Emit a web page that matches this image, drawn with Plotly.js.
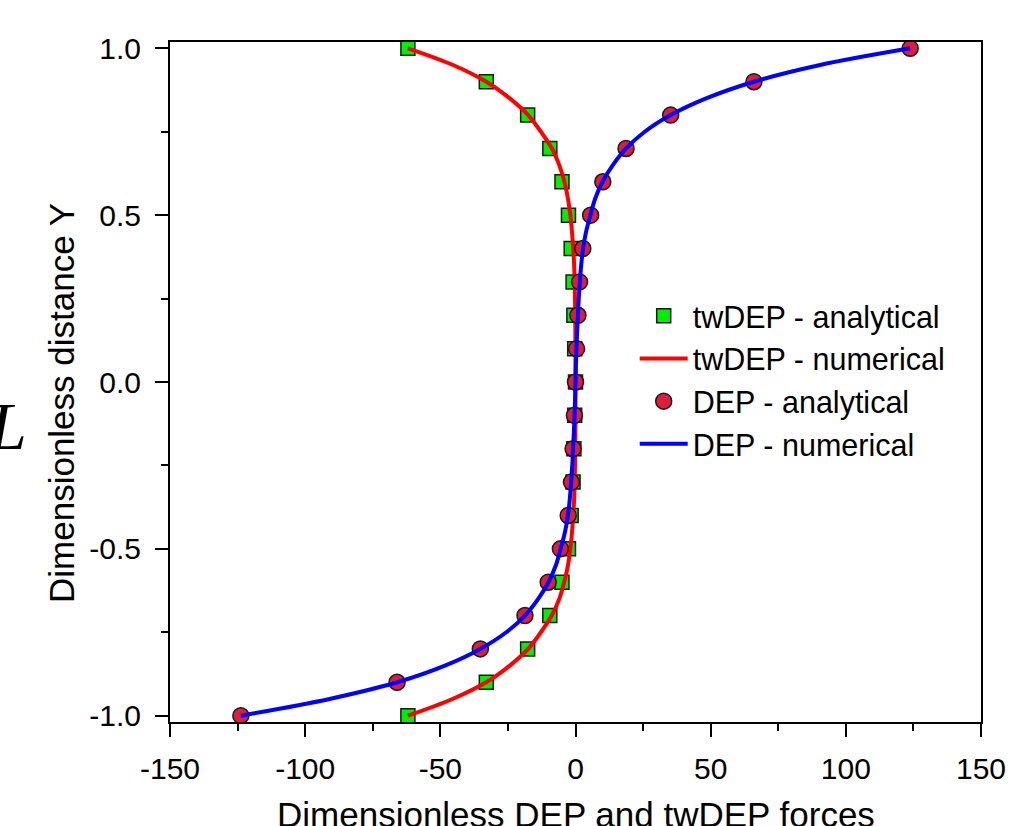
<!DOCTYPE html>
<html>
<head>
<meta charset="utf-8">
<script src="https://cdn.plot.ly/plotly-3.0.1.min.js"></script>
<style>html,body{margin:0;padding:0;background:#fff;}#chart{width:1031px;height:826px;}</style>
</head>
<body>
<div id="chart"></div>
<script>
// Analytical sample positions (dimensionless distance Y)
var yAnalytical = [-1.0,-0.9,-0.8,-0.7,-0.6,-0.5,-0.4,-0.3,-0.2,-0.1,0.0,0.1,0.2,0.3,0.4,0.5,0.6,0.7,0.8,0.9,1.0];
// twDEP analytical force values
var twdepAnalytical = [-62,-33,-17.7,-9.5,-5.0,-2.6,-1.6,-0.9,-0.6,-0.3,0,-0.3,-0.6,-0.9,-1.6,-2.6,-5.0,-9.5,-17.7,-33,-62];
// DEP analytical force values
var depAnalytical = [-123.8,-66,-35.2,-18.7,-10.1,-5.6,-2.7,-1.5,-0.9,-0.4,0,0.4,0.9,1.5,2.7,5.6,10.1,18.7,35.2,66,123.8];

// Numerical curve positions
var yNumerical = [-1.0,-0.95,-0.9,-0.85,-0.8,-0.75,-0.7,-0.65,-0.6,-0.55,-0.5,-0.45,-0.4,-0.35,-0.3,-0.25,-0.2,-0.15,-0.1,-0.05,0.0,
                  0.05,0.1,0.15,0.2,0.25,0.3,0.35,0.4,0.45,0.5,0.55,0.6,0.65,0.7,0.75,0.8,0.85,0.9,0.95,1.0];
// twDEP numerical force values
var twdepNumerical = [-62,-45.5,-33,-24.3,-17.5,-12.8,-8.8,-6.0,-4.2,-2.8,-1.9,-1.3,-0.85,-0.5,-0.3,-0.18,-0.1,-0.05,-0.02,-0.01,0,
                      -0.01,-0.02,-0.05,-0.1,-0.18,-0.3,-0.5,-0.85,-1.3,-1.9,-2.8,-4.1,-6.0,-8.7,-12.8,-17.5,-24.3,-33,-45.3,-62];
// DEP numerical force values
var depNumerical = [-123.8,-91,-66,-48.3,-35.2,-25.6,-18.7,-13.8,-10.0,-7.3,-5.5,-3.9,-2.8,-2.1,-1.6,-1.2,-0.9,-0.6,-0.35,-0.15,0,
                    0.15,0.35,0.6,0.9,1.2,1.6,2.1,2.8,3.9,5.5,7.3,10.0,13.8,18.7,25.6,35.2,48.3,66,90.5,123.8];

// Tick labels
var xTickVals = [-150,-100,-50,0,50,100,150];
var xTickText = ['-150','-100','-50','0','50','100','150'];
var yTickVals = [-1.0,-0.5,0.0,0.5,1.0];
var yTickText = ['-1.0','-0.5','0.0','0.5','1.0'];

var FONT = 'Arial, "Liberation Sans", Helvetica, sans-serif';

var traces = [
  {x: twdepAnalytical, y: yAnalytical, type: 'scatter', mode: 'markers', name: 'twDEP - analytical',
   marker: {symbol: 'square', size: 14, color: '#00ee00', line: {color: '#1a1a1a', width: 1.5}}},
  {x: twdepNumerical, y: yNumerical, type: 'scatter', mode: 'lines', name: 'twDEP - numerical',
   line: {color: '#ff0000', width: 4, shape: 'spline', smoothing: 1}},
  {x: depAnalytical, y: yAnalytical, type: 'scatter', mode: 'markers', name: 'DEP - analytical',
   marker: {symbol: 'circle', size: 16, color: '#dc1e3c', line: {color: '#1a1a1a', width: 1.5}}},
  {x: depNumerical, y: yNumerical, type: 'scatter', mode: 'lines', name: 'DEP - numerical',
   line: {color: '#0000ff', width: 4, shape: 'spline', smoothing: 1}}
];

var layout = {
  width: 1031, height: 826,
  margin: {l: 170, r: 50, t: 42, b: 104},
  paper_bgcolor: '#fff', plot_bgcolor: '#fff',
  font: {family: FONT, size: 30, color: '#000'},
  showlegend: true,
  legend: {x: 0.573, xanchor: 'left', y: 0.636, yanchor: 'top', bgcolor: 'rgba(0,0,0,0)',
           itemwidth: 48,
           font: {family: FONT, size: 30.5, color: '#000'}, tracegroupgap: 0},
  xaxis: {
    range: [-150, 150], autorange: false,
    tickmode: 'array', tickvals: xTickVals, ticktext: xTickText,
    ticks: 'outside', ticklen: 13, tickwidth: 2, tickcolor: '#000',
    minor: {tickmode: 'linear', tick0: -150, dtick: 25, ticks: 'outside', ticklen: 7, tickwidth: 2, tickcolor: '#000'},
    showline: true, linewidth: 2, linecolor: '#000', mirror: true,
    showgrid: false, zeroline: false,
    tickfont: {family: FONT, size: 30, color: '#000'},
    ticklabelstandoff: 6,
    automargin: false
  },
  yaxis: {
    range: [-1.019, 1.019], autorange: false,
    tickmode: 'array', tickvals: yTickVals, ticktext: yTickText,
    ticks: 'outside', ticklen: 13, tickwidth: 2, tickcolor: '#000',
    minor: {tickmode: 'linear', tick0: -1, dtick: 0.25, ticks: 'outside', ticklen: 7, tickwidth: 2, tickcolor: '#000'},
    showline: true, linewidth: 2, linecolor: '#000', mirror: true,
    showgrid: false, zeroline: false,
    tickfont: {family: FONT, size: 30, color: '#000'},
    ticklabelstandoff: 8,
    automargin: false
  },
  annotations: [
    {text: 'Dimensionless DEP and twDEP forces', xref: 'paper', yref: 'paper', x: 0.5, y: -0.136,
     xanchor: 'center', yanchor: 'middle', showarrow: false,
     font: {family: FONT, size: 35, color: '#000'}},
    {text: 'Dimensionless distance Y', xref: 'paper', yref: 'paper', x: -0.1345, y: 0.469,
     xanchor: 'center', yanchor: 'middle', textangle: -90, showarrow: false,
     font: {family: FONT, size: 35, color: '#000'}},
    {text: '<i>L</i>', xref: 'paper', yref: 'paper', x: -0.227, y: 0.435, xanchor: 'left', yanchor: 'middle',
     showarrow: false, font: {family: '"Liberation Serif", "Times New Roman", serif', size: 68, color: '#000'}}
  ]
};

Plotly.newPlot('chart', traces, layout, {displayModeBar: false, staticPlot: true});
</script>
</body>
</html>
